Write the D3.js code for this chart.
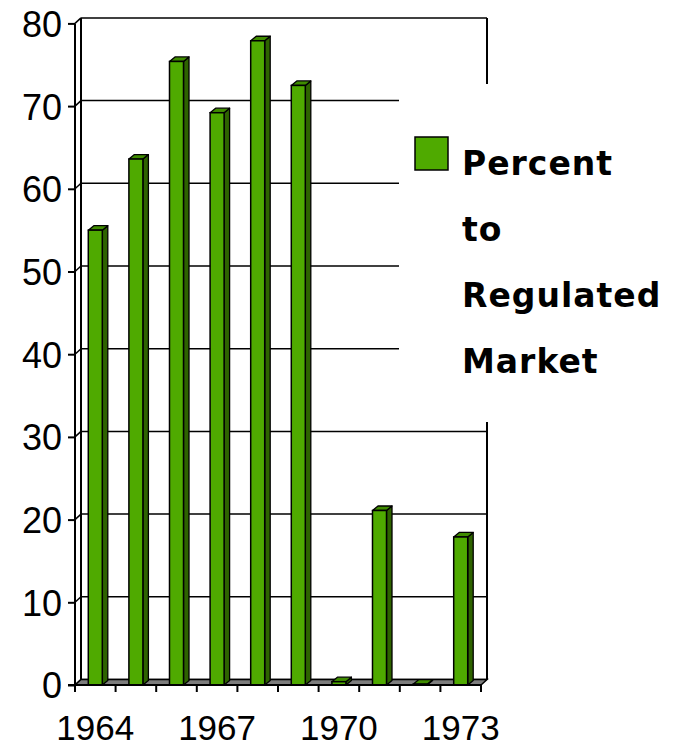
<!DOCTYPE html>
<html>
<head>
<meta charset="utf-8">
<script src="https://cdn.jsdelivr.net/npm/d3@7"></script>
<style>
  html, body { margin: 0; padding: 0; background: #fff; }
  svg { display: block; }
</style>
</head>
<body>
<svg id="chart" width="683" height="749"></svg>
<script>
// Share of output going to the regulated market, by year
const years = ["1964","1965","1966","1967","1968","1969","1970","1971","1972","1973"];
const percentToRegulated = [55.0, 63.6, 75.4, 69.2, 77.9, 72.5, 0.4, 21.1, 0.1, 17.9];
const yTicks = [0, 10, 20, 30, 40, 50, 60, 70, 80];
const xTickLabels = ["1964", "1967", "1970", "1973"];
const legendLines = ["Percent", "to", "Regulated", "Market"];

const svg = d3.select("#chart");

const x = d3.scaleBand().domain(years).range([75, 481]).padding(0);
const y = d3.scaleLinear().domain([0, 80]).range([685, 23.4]);

// oblique offsets of the walls and of the columns
const wallDx = 6, wallDy = -5.5;
const barDx = 5.5, barDy = -4.5;

const colFront = "#4FAA00", colSide = "#2E6300", colTop = "#3F8C00";
const ink = "#000";

const x0 = x.range()[0], x1 = x.range()[1];

// back wall gridlines
svg.append("g").selectAll("line").data(yTicks).join("line")
  .attr("x1", x0 + wallDx).attr("x2", x1 + wallDx)
  .attr("y1", d => y(d) + wallDy).attr("y2", d => y(d) + wallDy)
  .attr("stroke", ink).attr("stroke-width", 1.5);

// right edge of back wall
svg.append("line")
  .attr("x1", x1 + wallDx).attr("x2", x1 + wallDx)
  .attr("y1", y(80) + wallDy).attr("y2", y(0) + wallDy)
  .attr("stroke", ink).attr("stroke-width", 2);

// side wall: back edge and tick traces across it
svg.append("line")
  .attr("x1", x0 + wallDx).attr("x2", x0 + wallDx)
  .attr("y1", y(80) + wallDy).attr("y2", y(0) + wallDy)
  .attr("stroke", ink).attr("stroke-width", 2);
svg.append("g").selectAll("line").data(yTicks).join("line")
  .attr("x1", x0).attr("x2", x0 + wallDx)
  .attr("y1", d => y(d)).attr("y2", d => y(d) + wallDy)
  .attr("stroke", ink).attr("stroke-width", 1.5);

// floor slab
svg.append("path")
  .attr("d", `M${x0},${y(0)}L${x1},${y(0)}L${x1 + wallDx},${y(0) + wallDy}L${x0 + wallDx},${y(0) + wallDy}Z`)
  .attr("fill", "#7d7d7d").attr("stroke", ink).attr("stroke-width", 1.5);

// columns
const barW = x.bandwidth() * 0.345;
const bars = svg.append("g").selectAll("g")
  .data(years.map((yr, i) => ({ yr, v: percentToRegulated[i] })))
  .join("g");

bars.each(function(d) {
  const g = d3.select(this);
  const bx = x(d.yr) + (x.bandwidth() - barW) / 2;
  const top = y(d.v), base = y(0);
  // side face
  g.append("path")
    .attr("d", `M${bx + barW},${base}L${bx + barW + barDx},${base + barDy}L${bx + barW + barDx},${top + barDy}L${bx + barW},${top}Z`)
    .attr("fill", colSide).attr("stroke", ink).attr("stroke-width", 1.3).attr("stroke-linejoin", "round");
  // top face
  g.append("path")
    .attr("d", `M${bx},${top}L${bx + barW},${top}L${bx + barW + barDx},${top + barDy}L${bx + barDx},${top + barDy}Z`)
    .attr("fill", colTop).attr("stroke", ink).attr("stroke-width", 1.3).attr("stroke-linejoin", "round");
  // front face
  g.append("rect")
    .attr("x", bx).attr("y", top).attr("width", barW).attr("height", Math.max(0, base - top))
    .attr("fill", colFront).attr("stroke", ink).attr("stroke-width", 1.5);
});

// front edges of the axes
svg.append("line")
  .attr("x1", x0).attr("x2", x0).attr("y1", y(80)).attr("y2", y(0) + 7)
  .attr("stroke", ink).attr("stroke-width", 2);
svg.append("line")
  .attr("x1", x0 - 7).attr("x2", x1).attr("y1", y(0)).attr("y2", y(0))
  .attr("stroke", ink).attr("stroke-width", 2);

// y axis ticks and labels
const yAxis = d3.axisLeft(y).tickValues(yTicks).tickSize(7).tickPadding(6).tickFormat(d3.format("d"));
const gy = svg.append("g").attr("transform", `translate(${x0},0)`).call(yAxis);
gy.select(".domain").remove();
gy.selectAll(".tick line").attr("stroke", ink).attr("stroke-width", 2);
gy.selectAll(".tick text")
  .attr("fill", ink)
  .attr("font-family", "'Comic Sans MS', 'Liberation Sans', Arial, sans-serif")
  .attr("font-size", 36)
  .attr("dy", "0.36em");

// x axis: ticks on category boundaries, labels every third year
const bounds = d3.range(years.length + 1).map(i => x0 + i * x.step());
svg.append("g").selectAll("line").data(bounds).join("line")
  .attr("x1", d => d).attr("x2", d => d)
  .attr("y1", y(0)).attr("y2", y(0) + 7)
  .attr("stroke", ink).attr("stroke-width", 2);
svg.append("g").selectAll("text").data(xTickLabels).join("text")
  .attr("x", d => x(d) + x.bandwidth() / 2)
  .attr("y", 740)
  .attr("text-anchor", "middle")
  .attr("font-family", "'Comic Sans MS', 'Liberation Sans', Arial, sans-serif")
  .attr("font-size", 35)
  .attr("fill", ink)
  .text(d => d);

// legend box
svg.append("rect")
  .attr("x", 399).attr("y", 84).attr("width", 284).attr("height", 338)
  .attr("fill", "#fff");
svg.append("rect")
  .attr("x", 415).attr("y", 137).attr("width", 33).attr("height", 33)
  .attr("fill", colFront).attr("stroke", ink).attr("stroke-width", 1.5);
svg.append("g").selectAll("text").data(legendLines).join("text")
  .attr("x", 462)
  .attr("y", (d, i) => 175 + i * 66)
  .attr("font-family", "'Comic Sans MS', 'DejaVu Sans', sans-serif")
  .attr("font-weight", "bold")
  .attr("font-size", 33)
  .attr("letter-spacing", "1px")
  .attr("fill", ink)
  .text(d => d);
</script>
</body>
</html>
